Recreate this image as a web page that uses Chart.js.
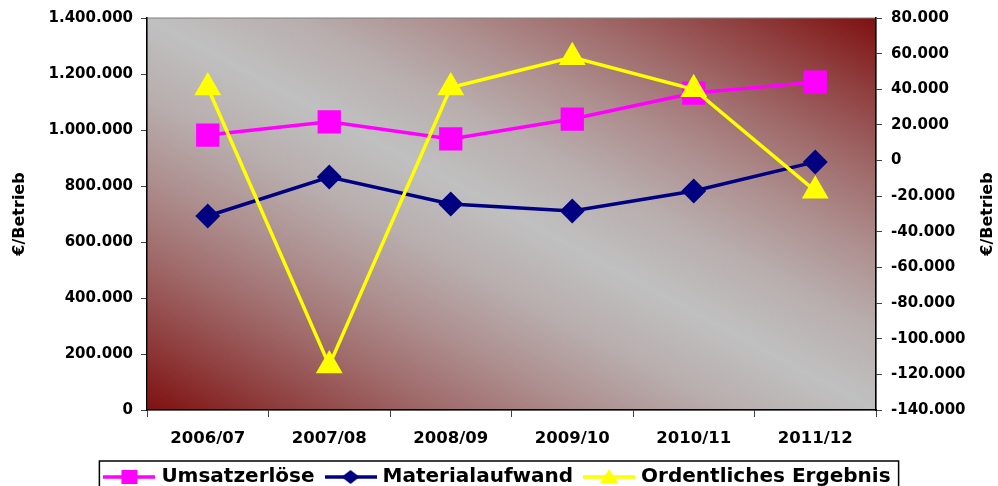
<!DOCTYPE html>
<html>
<head>
<meta charset="utf-8">
<script src="https://cdn.jsdelivr.net/npm/chart.js@4.4.1/dist/chart.umd.min.js"></script>
<style>
  html, body { margin: 0; padding: 0; background: #fff; }
  #wrap { width: 998px; height: 486px; }
</style>
</head>
<body>
<div id="wrap"><canvas id="chart"></canvas></div>
<script>
const years = ['2006/07', '2007/08', '2008/09', '2009/10', '2010/11', '2011/12'];
const umsatz = [982000, 1029000, 968000, 1039000, 1132000, 1171000];
const material = [693000, 832000, 736000, 711000, 782000, 886000];
const ergebnis = [41000, -115000, 41000, 58000, 40000, -17000];

const FONT = "'DejaVu Sans', Verdana, sans-serif";

function fmt(v) {
    return String(Math.round(v)).replace(/\B(?=(\d{3})+(?!\d))/g, '.');
}

// legend sample: line with marker in the middle
function legendIcon(color, style) {
    const c = document.createElement('canvas');
    c.width = 52;
    c.height = 22;
    const g = c.getContext('2d');
    g.strokeStyle = color;
    g.fillStyle = color;
    g.lineWidth = 3.5;
    g.beginPath();
    g.moveTo(0, 11);
    g.lineTo(52, 11);
    g.stroke();
    g.beginPath();
    if (style === 'rect') {
        g.rect(18, 4, 16, 14);
    } else if (style === 'rectRot') {
        g.moveTo(26, 4); g.lineTo(35, 11); g.lineTo(26, 18); g.lineTo(17, 11);
    } else {
        g.moveTo(26, 3); g.lineTo(35, 17); g.lineTo(17, 17);
    }
    g.closePath();
    g.fill();
    return c;
}

const bgPlugin = {
    id: 'plotBg',
    beforeDraw(chart) {
        const a = chart.chartArea;
        const ctx = chart.ctx;
        ctx.save();
        ctx.translate(a.left, a.top);
        ctx.scale(a.right - a.left, a.bottom - a.top);
        // diagonal two-way gradient: dark red corners, silver middle
        const grad = ctx.createLinearGradient(0, 1, 1, 0);
        for (let k = 0; k <= 10; k++) {
            const d = Math.abs(k - 5) / 5;
            const f = Math.pow(d, 1.4);
            const r = Math.round(192 - f * 65);
            const gb = Math.round(192 - f * 176);
            grad.addColorStop(k / 10, `rgb(${r},${gb},${gb})`);
        }
        ctx.fillStyle = grad;
        ctx.fillRect(0, 0, 1, 1);
        ctx.restore();
        ctx.save();
        ctx.strokeStyle = '#808080';
        ctx.lineWidth = 1;
        ctx.strokeRect(a.left, a.top, a.right - a.left, a.bottom - a.top);
        ctx.restore();
    },
    afterDraw(chart) {
        const ctx = chart.ctx;
        // right axis title, reading bottom to top
        ctx.save();
        ctx.font = 'bold 16px ' + FONT;
        ctx.fillStyle = '#000';
        ctx.textAlign = 'center';
        ctx.textBaseline = 'middle';
        ctx.translate(988, (chart.chartArea.top + chart.chartArea.bottom) / 2);
        ctx.rotate(-Math.PI / 2);
        ctx.fillText('€/Betrieb', 0, 0);
        ctx.restore();
        // legend frame
        const boxes = chart.legend.legendHitBoxes;
        if (boxes && boxes.length) {
            let l = Infinity, r = -Infinity, t = Infinity, b = -Infinity;
            boxes.forEach(h => {
                l = Math.min(l, h.left); r = Math.max(r, h.left + h.width);
                t = Math.min(t, h.top); b = Math.max(b, h.top + h.height);
            });
            ctx.save();
            ctx.strokeStyle = '#000';
            ctx.lineWidth = 1.5;
            ctx.strokeRect(l - 8, t - 6, r - l + 16, b - t + 20);
            ctx.restore();
        }
    }
};

const icons = [
    legendIcon('#ff00ff', 'rect'),
    legendIcon('#000080', 'rectRot'),
    legendIcon('#ffff00', 'triangle')
];

new Chart(document.getElementById('chart'), {
    type: 'line',
    data: {
        labels: years,
        datasets: [
            {
                label: 'Umsatzerlöse',
                data: umsatz,
                yAxisID: 'y',
                borderColor: '#ff00ff',
                backgroundColor: '#ff00ff',
                borderWidth: 3.5,
                pointStyle: 'rect',
                pointRadius: 14,
                pointHoverRadius: 14,
                order: 1
            },
            {
                label: 'Materialaufwand',
                data: material,
                yAxisID: 'y',
                borderColor: '#000080',
                backgroundColor: '#000080',
                borderWidth: 3.5,
                pointStyle: 'rectRot',
                pointRadius: 10,
                pointHoverRadius: 10,
                order: 2
            },
            {
                label: 'Ordentliches Ergebnis',
                data: ergebnis,
                yAxisID: 'y1',
                borderColor: '#ffff00',
                backgroundColor: '#ffff00',
                borderWidth: 3.5,
                pointStyle: 'triangle',
                pointRadius: 12,
                pointHoverRadius: 12,
                order: 0
            }
        ]
    },
    options: {
        responsive: true,
        maintainAspectRatio: false,
        animation: false,
        layout: { padding: { top: 17, right: 0, left: 0, bottom: -11 } },
        elements: { line: { tension: 0 } },
        plugins: {
            tooltip: { enabled: false },
            legend: {
                display: true,
                position: 'bottom',
                labels: {
                    usePointStyle: true,
                    pointStyleWidth: 44,
                    padding: 14,
                    color: '#000',
                    font: { family: FONT, size: 20, weight: 'bold' },
                    generateLabels(chart) {
                        return chart.data.datasets.map((ds, i) => ({
                            text: ds.label,
                            pointStyle: icons[i],
                            fillStyle: ds.backgroundColor,
                            strokeStyle: ds.borderColor,
                            lineWidth: 0,
                            datasetIndex: i,
                            fontColor: '#000'
                        }));
                    }
                }
            }
        },
        scales: {
            x: {
                offset: true,
                grid: {
                    offset: true,
                    drawOnChartArea: false,
                    tickLength: 7,
                    color: '#404040'
                },
                border: { color: '#000', width: 1.5 },
                ticks: {
                    color: '#000',
                    padding: 12,
                    maxRotation: 0,
                    font: { family: FONT, size: 16.5, weight: 'bold' }
                },
                afterFit(scale) { scale.height = 43; }
            },
            y: {
                position: 'left',
                min: 0,
                max: 1400000,
                grid: {
                    drawOnChartArea: false,
                    tickLength: 6,
                    color: '#404040'
                },
                border: { color: '#000', width: 1.5 },
                ticks: {
                    stepSize: 200000,
                    color: '#000',
                    padding: 8,
                    font: { family: FONT, size: 15, weight: 'bold' },
                    callback: v => fmt(v)
                },
                title: {
                    display: true,
                    text: '€/Betrieb',
                    color: '#000',
                    padding: { top: 10, bottom: 0 },
                    font: { family: FONT, size: 16, weight: 'bold' }
                },
                afterFit(scale) { scale.width = 147; }
            },
            y1: {
                position: 'right',
                min: -140000,
                max: 80000,
                grid: {
                    drawOnChartArea: false,
                    tickLength: 6,
                    color: '#404040'
                },
                border: { color: '#000', width: 1.5 },
                ticks: {
                    stepSize: 20000,
                    color: '#000',
                    padding: 9,
                    font: { family: FONT, size: 15, weight: 'bold' },
                    callback: v => fmt(v)
                },
                afterFit(scale) { scale.width = 122; }
            }
        }
    },
    plugins: [bgPlugin]
});
</script>
</body>
</html>
